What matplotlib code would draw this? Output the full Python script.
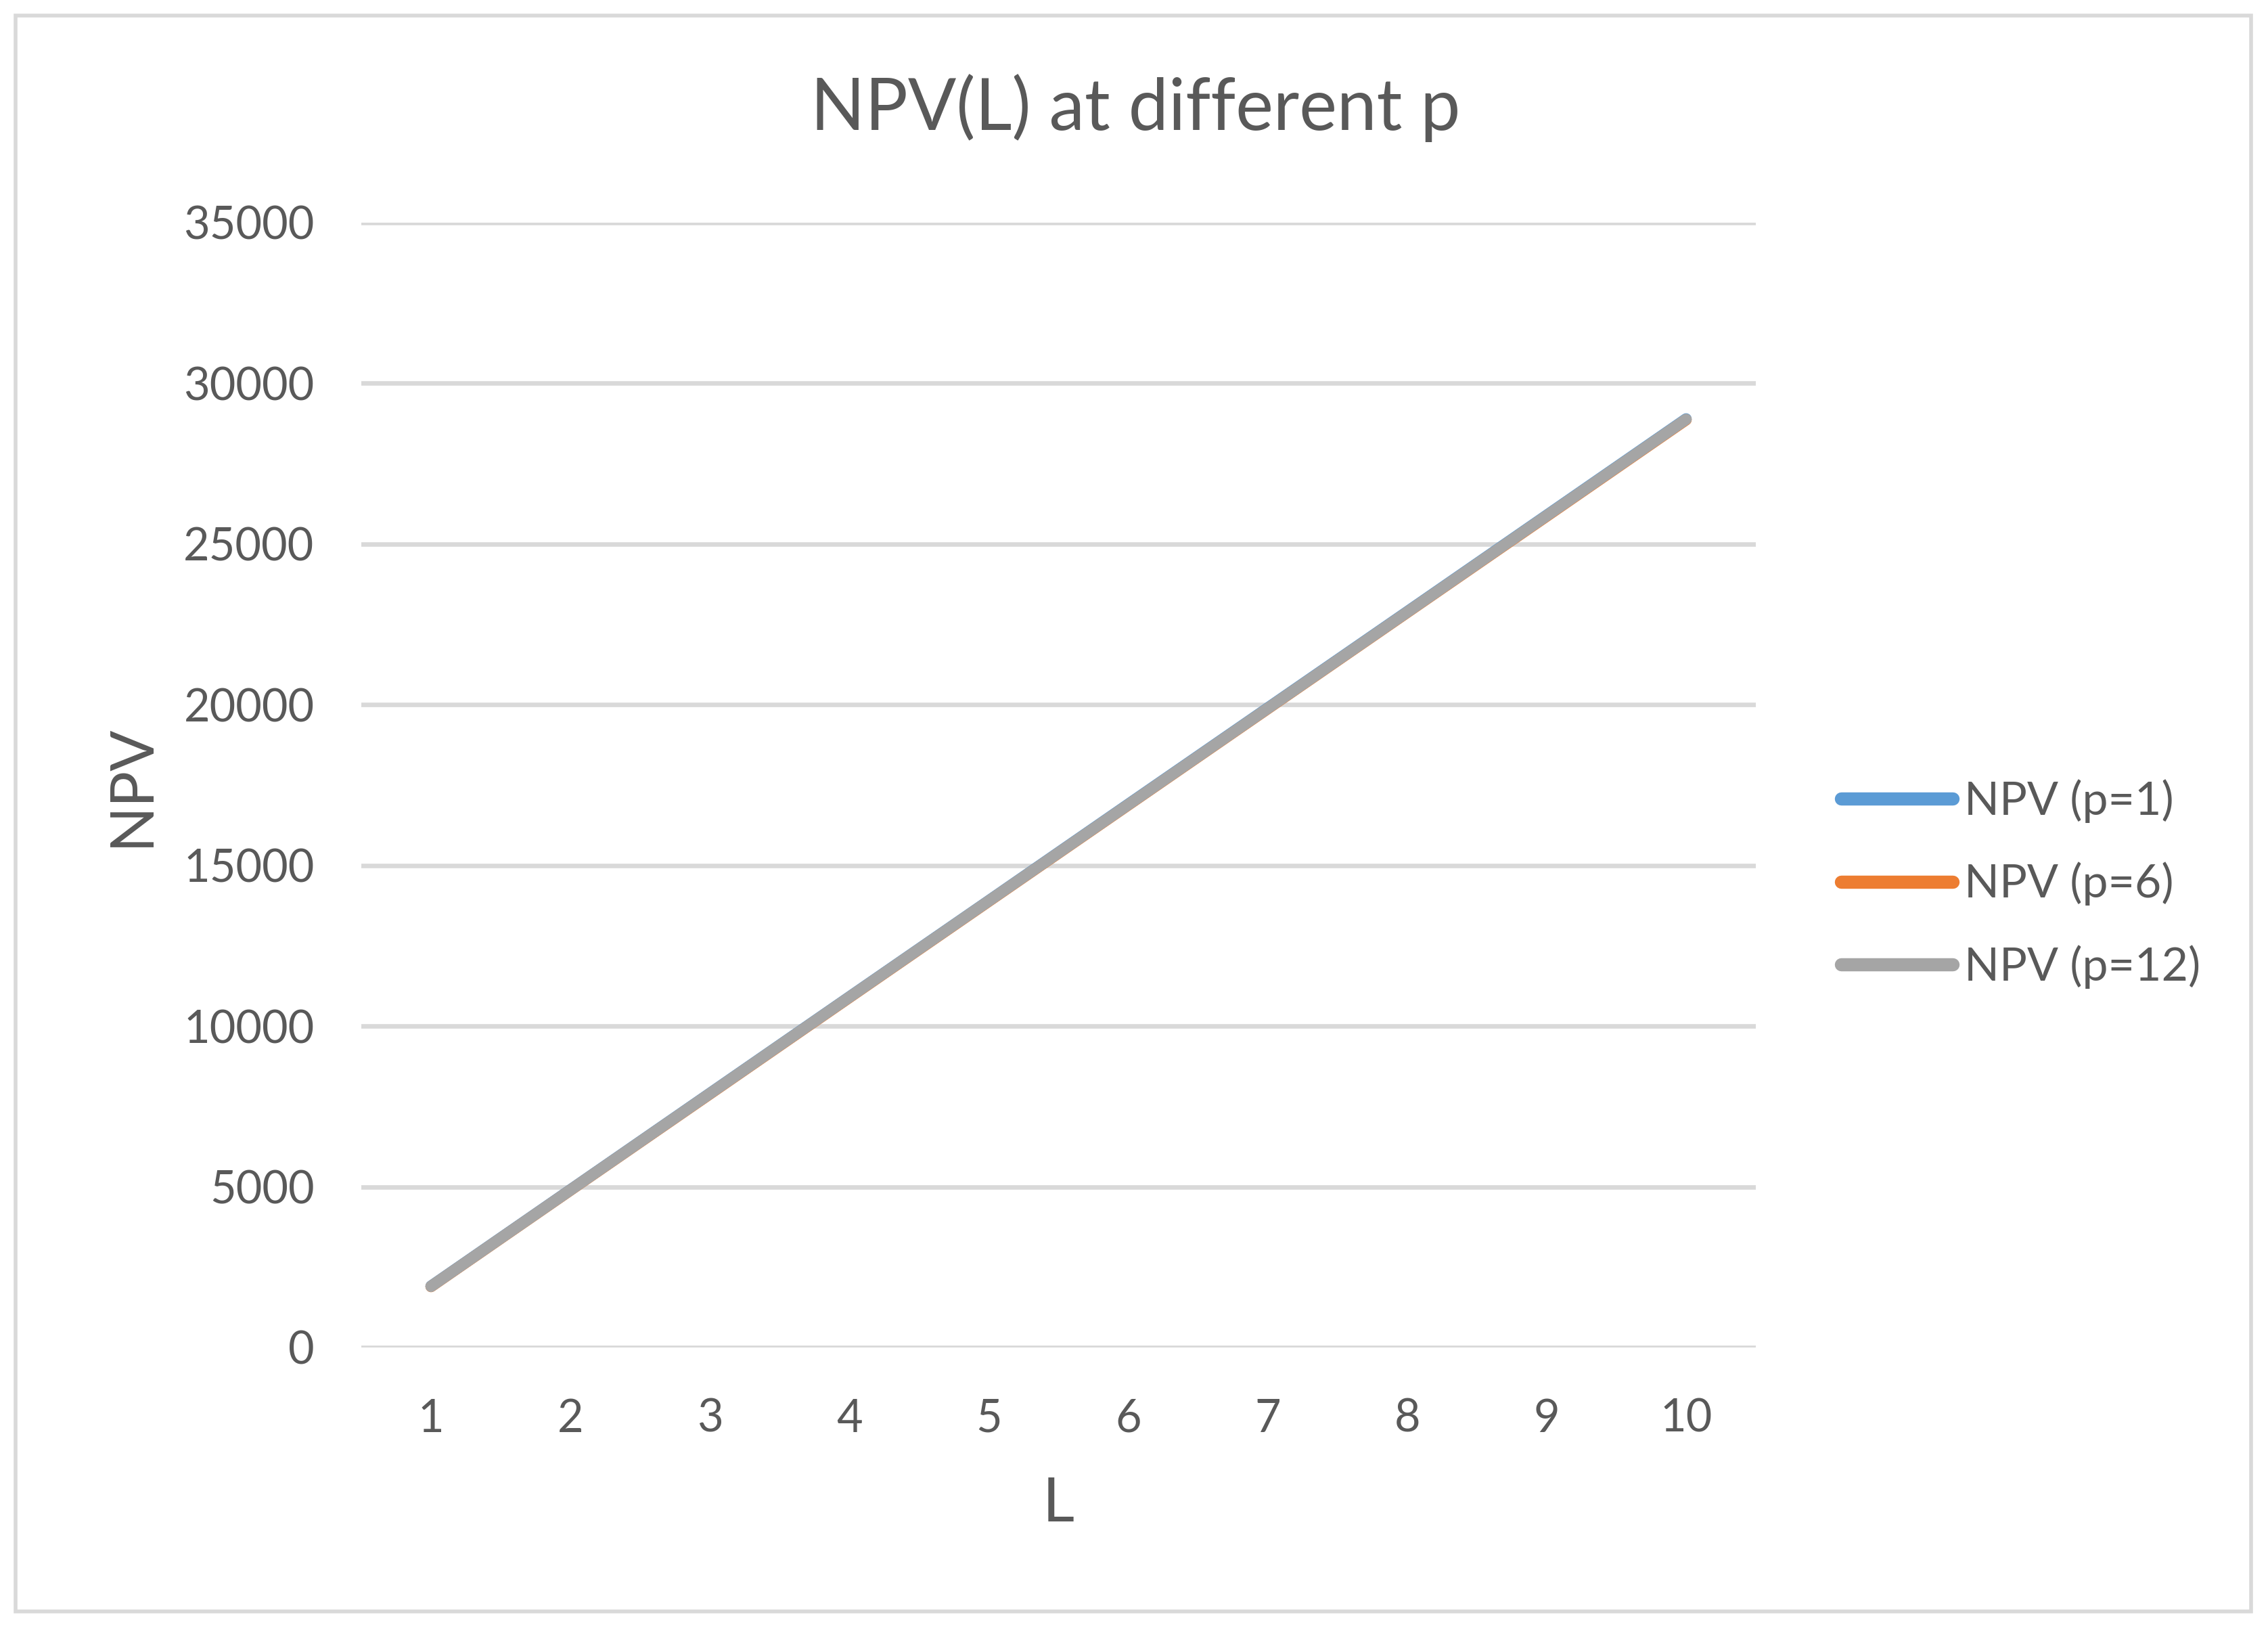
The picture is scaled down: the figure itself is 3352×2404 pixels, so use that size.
import matplotlib
matplotlib.use("Agg")
import matplotlib.pyplot as plt
from matplotlib.patches import Rectangle

L = [1, 2, 3, 4, 5, 6, 7, 8, 9, 10]
npv_p1 = [1910, 4910, 7910, 10910, 13905, 16905, 19900, 22895, 25895, 28895]
npv_p6 = [1895, 4895, 7890, 10890, 13885, 16880, 19875, 22870, 25865, 28865]
npv_p12 = [1900, 4900, 7900, 10900, 13895, 16890, 19885, 22880, 25880, 28880]
series_labels = ["NPV (p=1)", "NPV (p=6)", "NPV (p=12)"]
colors = ["#5B9BD5", "#ED7D31", "#A5A5A5"]
yticks = [0, 5000, 10000, 15000, 20000, 25000, 30000, 35000]

plt.rcParams['font.family'] = ['Lato', 'DejaVu Sans']
txt = "#595959"
grid = "#D9D9D9"

W, H, DPI = 3352, 2404, 200
fig = plt.figure(figsize=(W / DPI, H / DPI), dpi=DPI)
fig.patch.set_facecolor("white")

ax = fig.add_axes([534 / W, 1 - 1991 / H, (2595 - 534) / W, (1991 - 329) / H])
pos = list(range(len(L)))
for vals, lab, c in zip([npv_p1, npv_p6, npv_p12], series_labels, colors):
    ax.plot(pos, vals, color=c, lw=6, solid_capstyle="round", label=lab)

ax.set_xlim(-0.5, len(L) - 0.5)
ax.set_ylim(0, 35000)
ax.set_yticks(yticks)
ax.set_yticklabels([str(v) for v in yticks])
ax.set_xticks(pos)
ax.set_xticklabels([str(v) for v in L])
ax.yaxis.grid(True, color=grid, lw=2.4)
ax.set_axisbelow(True)
for s in ax.spines.values():
    s.set_visible(False)
ax.tick_params(axis="both", length=0, labelsize=24, colors=txt)
ax.tick_params(axis="y", pad=25)
ax.tick_params(axis="x", pad=27)

fig.text(1678 / W, 1 - 160 / H, "NPV(L) at different p", ha="center", va="center",
         fontsize=38, color=txt)
fig.text(195 / W, 1 - 1160 / H, "NPV", ha="center", va="center", rotation=90,
         fontsize=32, color=txt)
fig.text(1564 / W, 1 - 2223 / H, "L", ha="center", va="center",
         fontsize=33, color=txt)

leg = ax.legend(loc="center left", bbox_to_anchor=(2721 / W, 1 - 1306 / H),
                bbox_transform=fig.transFigure, frameon=False, fontsize=24.5,
                handlelength=2.42, handletextpad=0.25, labelspacing=0.85,
                borderpad=0, borderaxespad=0)
for t in leg.get_texts():
    t.set_color(txt)
for h in leg.get_lines():
    h.set_linewidth(7)
    h.set_solid_capstyle("round")

fig.patches.append(Rectangle((23 / W, 23 / H), (3327 - 23) / W, (2381 - 23) / H,
                             transform=fig.transFigure, fill=False,
                             edgecolor=grid, lw=2))

fig.savefig("out.png", dpi=DPI)
